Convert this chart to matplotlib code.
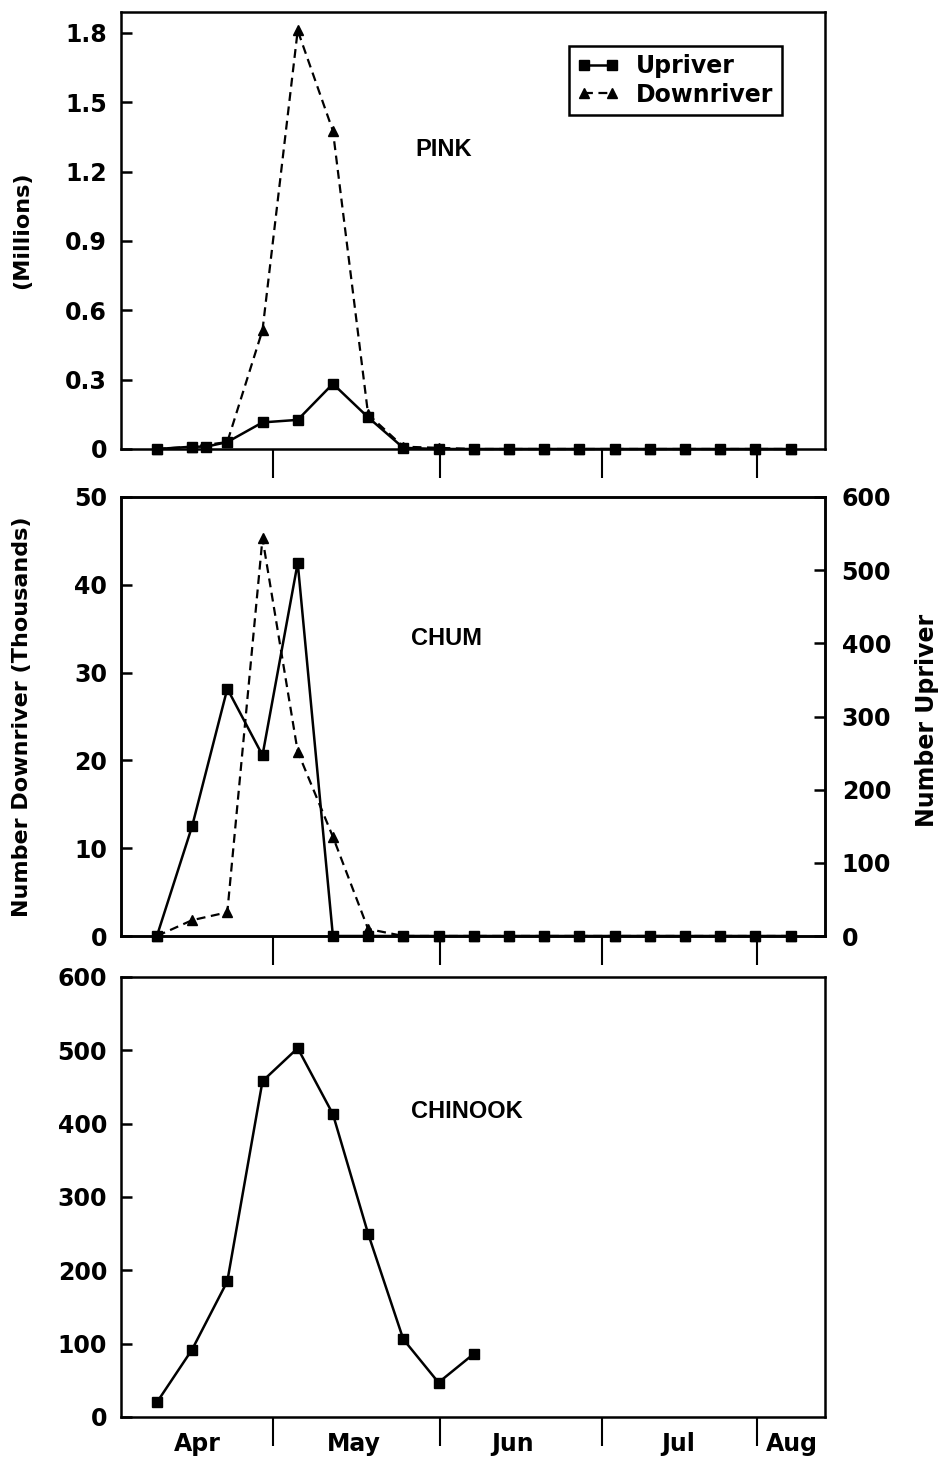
import matplotlib
matplotlib.use("Agg")
import matplotlib.pyplot as plt

# x = sample number (about one per week, first sample in early April)
pink_up_x = [0, 1, 1.4, 2, 3, 4, 5, 6, 7, 8, 9, 10, 11, 12, 13, 14, 15, 16, 17, 18]
pink_up = [0, 0.01, 0.01, 0.03, 0.115, 0.126, 0.282, 0.137, 0.005, 0,
           0, 0, 0, 0, 0, 0, 0, 0, 0, 0]
pink_down_x = list(range(19))
pink_down = [0, 0.01, 0.03, 0.514, 1.81, 1.376, 0.15, 0.01, 0.005, 0,
             0, 0, 0, 0, 0, 0, 0, 0, 0]

chum_x = list(range(19))
chum_up = [0, 150, 338, 247, 510, 0, 0, 0, 0, 0, 0, 0, 0, 0, 0, 0, 0, 0, 0]
chum_down = [0, 1.8, 2.7, 45.3, 21.0, 11.3, 0.8, 0, 0, 0, 0, 0, 0, 0, 0, 0, 0, 0, 0]

chinook_x = list(range(10))
chinook_up = [20, 92, 185, 458, 503, 413, 250, 106, 47, 86]

months = ["Apr", "May", "Jun", "Jul", "Aug"]
month_label_x = [1.14, 5.6, 10.1, 14.8, 18.04]
month_edges = [3.3, 8.05, 12.65, 17.05]

plt.rcParams["font.family"] = "DejaVu Sans"
plt.rcParams["font.weight"] = "bold"
FS = 17

up_style = dict(color="black", lw=1.8, marker="s", ms=7, clip_on=False, zorder=3)
down_style = dict(color="black", lw=1.6, ls=(0, (4, 2.5)), marker="^", ms=7,
                  clip_on=False, zorder=3)

fig = plt.figure(figsize=(9.47, 14.62), dpi=100)
L, W = 121 / 947, 704 / 947
ax1 = fig.add_axes([L, 1 - 449 / 1462, W, 437 / 1462])
ax2 = fig.add_axes([L, 1 - 936 / 1462, W, 439 / 1462])
ax3 = fig.add_axes([L, 1 - 1417 / 1462, W, 440 / 1462])


def style_axes(ax, labels):
    for s in ax.spines.values():
        s.set_linewidth(1.8)
    ax.set_xlim(-1.02, 18.98)
    ax.set_xticks(month_edges)
    ax.set_xticklabels([])
    ax.tick_params(axis="x", which="major", direction="out", length=21, width=1.5)
    if labels:
        ax.set_xticks(month_label_x, minor=True)
        ax.set_xticklabels(months, minor=True, fontsize=FS, fontweight="bold")
        ax.tick_params(axis="x", which="minor", length=0, pad=11)
    ax.tick_params(axis="y", direction="in", length=8, width=1.8, pad=10,
                   labelsize=FS)


# PINK
ax1.plot(pink_down_x, pink_down, label="Downriver", **down_style)
ax1.plot(pink_up_x, pink_up, label="Upriver", **up_style)
ax1.set_ylim(0, 1.89)
ax1.set_yticks([0, 0.3, 0.6, 0.9, 1.2, 1.5, 1.8])
ax1.set_yticklabels(["0", "0.3", "0.6", "0.9", "1.2", "1.5", "1.8"])
style_axes(ax1, False)
ax1.set_ylabel("(Millions)", fontsize=16, fontweight="bold")
ax1.yaxis.set_label_coords(-0.126, 0.5)
ax1.text(8.15, 1.294, "PINK", fontsize=17, fontweight="bold",
         family="Liberation Sans", ha="center", va="center")
h, l = ax1.get_legend_handles_labels()
leg = ax1.legend(h[::-1], l[::-1], loc="upper right", bbox_to_anchor=(0.955, 0.95),
                 fontsize=FS, handlelength=1.8, handletextpad=0.7, fancybox=False,
                 edgecolor="black", framealpha=1, borderpad=0.35, labelspacing=0.2,
                 numpoints=2)
leg.get_frame().set_linewidth(1.8)

# CHUM
ax2.plot(chum_x, chum_down, **down_style)
ax2.set_ylim(0, 50)
ax2.set_yticks([0, 10, 20, 30, 40, 50])
style_axes(ax2, False)
ax2.set_ylabel("Number Downriver (Thousands)", fontsize=16, fontweight="bold")
ax2.yaxis.set_label_coords(-0.126, 0.5)
ax2.text(8.24, 33.9, "CHUM", fontsize=17, fontweight="bold",
         family="Liberation Sans", ha="center", va="center")
ax2r = ax2.twinx()
ax2r.plot(chum_x, chum_up, **up_style)
ax2r.set_ylim(0, 600)
ax2r.set_yticks([0, 100, 200, 300, 400, 500, 600])
ax2r.tick_params(axis="y", direction="in", length=8, width=1.8, pad=12, labelsize=FS)
ax2r.set_ylabel("Number Upriver", fontsize=FS, fontweight="bold")
ax2r.yaxis.set_label_coords(1.128, 0.49)
for s in ax2r.spines.values():
    s.set_linewidth(1.8)

# CHINOOK
ax3.plot(chinook_x, chinook_up, **up_style)
ax3.set_ylim(0, 600)
ax3.set_yticks([0, 100, 200, 300, 400, 500, 600])
style_axes(ax3, True)
ax3.text(8.8, 416, "CHINOOK", fontsize=17, fontweight="bold",
         family="Liberation Sans", ha="center", va="center")

fig.savefig("out.png", dpi=100)
